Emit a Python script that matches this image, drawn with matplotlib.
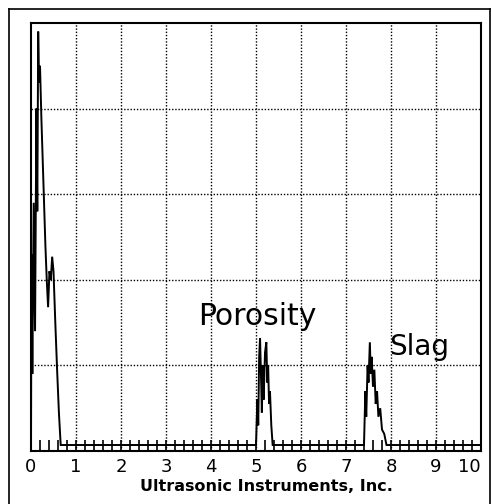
#!/usr/bin/env python3
"""A-scan style ultrasonic trace: initial pulse plus porosity and slag echoes."""

import matplotlib

matplotlib.use("Agg")
import matplotlib.pyplot as plt
from matplotlib.lines import Line2D

# initial pulse (x in screen divisions, y in divisions)
pulse_x = [0.00, 0.01, 0.03, 0.06, 0.09, 0.12, 0.14, 0.16, 0.18, 0.20, 0.23, 0.26,
           0.29, 0.32, 0.35, 0.38, 0.41, 0.44, 0.47, 0.50, 0.54, 0.58, 0.62, 0.66]
pulse_y = [0.07, 2.30, 0.90, 2.90, 1.40, 4.00, 2.80, 4.90, 4.30, 4.50, 3.90, 3.40,
           2.90, 2.40, 2.00, 1.68, 2.10, 2.00, 2.27, 2.10, 1.50, 0.95, 0.45, 0.07]

porosity_x = [5.00, 5.03, 5.05, 5.07, 5.09, 5.11, 5.13, 5.15, 5.17, 5.20, 5.23,
              5.25, 5.27, 5.29, 5.31, 5.34, 5.37]
porosity_y = [0.07, 0.60, 0.30, 1.10, 1.32, 0.90, 0.45, 1.00, 0.60, 1.15, 1.27,
              0.80, 1.00, 0.55, 0.70, 0.30, 0.07]

slag_x = [7.40, 7.43, 7.45, 7.48, 7.50, 7.53, 7.55, 7.57, 7.60, 7.63, 7.66,
          7.69, 7.72, 7.76, 7.80, 7.85, 7.90]
slag_y = [0.07, 0.70, 0.40, 1.00, 0.80, 1.27, 0.90, 1.10, 0.75, 0.95, 0.55,
          0.70, 0.40, 0.50, 0.25, 0.20, 0.07]

trace_end_x = [10.0]
trace_end_y = [0.07]

x_ticks = [0, 1, 2, 3, 4, 5, 6, 7, 8, 9, 10]
x_tick_labels = ["0", "1", "2", "3", "4", "5", "6", "7", "8", "9", "10"]
y_grid = [1, 2, 3, 4]

labels = ["Porosity", "Slag"]
label_pos = [(3.71, 1.47), (7.95, 1.12)]
label_sizes = [21.5, 20]
footer = "Ultrasonic Instruments, Inc."


def main() -> None:
    fig = plt.figure(figsize=(4.92, 5.04), dpi=100)
    ax = fig.add_axes([31 / 492, 53 / 504, 450 / 492, 428 / 504])

    trace_x = pulse_x + porosity_x + slag_x + trace_end_x
    trace_y = pulse_y + porosity_y + slag_y + trace_end_y
    ax.plot(trace_x, trace_y, color="black", linewidth=1.4, solid_joinstyle="miter")

    ax.set_xlim(0, 10)
    ax.set_ylim(0, 5)

    # dotted graticule
    for gx in x_ticks[1:-1]:
        ax.axvline(gx, color="black", linewidth=1.0, linestyle=(0, (1, 1.3)))
    for gy in y_grid:
        ax.axhline(gy, color="black", linewidth=1.0, linestyle=(0, (1, 1.3)))

    ax.set_xticks(x_ticks, x_tick_labels, fontsize=13)
    ax.set_xticks([i * 0.2 for i in range(1, 50)], minor=True)
    ax.tick_params(axis="x", which="both", direction="in", length=8, width=1.2, pad=5)
    ax.xaxis.get_majorticklabels()[-1].set_horizontalalignment("right")
    ax.xaxis.get_majorticklabels()[-1].set_x(10.1)
    ax.set_yticks([])

    for spine in ax.spines.values():
        spine.set_linewidth(1.5)

    for text, (tx, ty), size in zip(labels, label_pos, label_sizes):
        ax.text(tx, ty, text, fontsize=size, ha="left", va="baseline")

    fig.text(266 / 492, 1 - 491 / 504, footer, fontsize=11.5, fontweight="semibold",
             ha="center", va="baseline")

    # outer border (no bottom edge, it runs off the page)
    bx0, bx1, by = 9 / 492, 490 / 492, 1 - 9 / 504
    for xs, ys in [([bx0, bx0], [0, by]), ([bx0, bx1], [by, by]), ([bx1, bx1], [by, 0])]:
        fig.add_artist(Line2D(xs, ys, color="black", linewidth=1.2, transform=fig.transFigure))

    fig.savefig("out.png", dpi=100)
    plt.close(fig)


if __name__ == "__main__":
    main()
